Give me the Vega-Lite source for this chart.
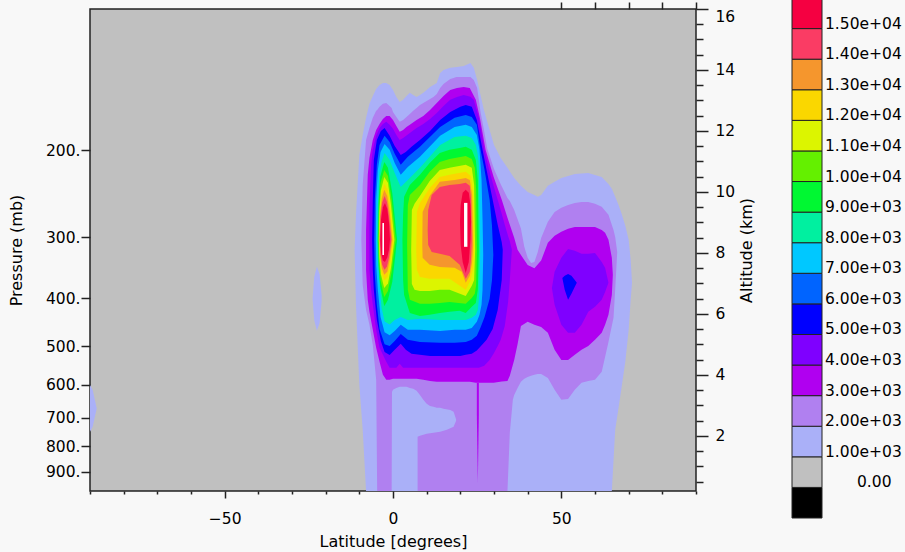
{
 "$schema": "https://vega.github.io/schema/vega-lite/v6.json",
 "width": 606, "height": 482,
 "autosize": {"type": "none"},
 "padding": {"left": 90, "top": 9, "right": 209, "bottom": 61},
 "background": "#f8f8f8",
 "config": {
  "view": {"fill": "#c0c0c0", "stroke": "#222222", "strokeWidth": 1.5},
  "font": "DejaVu Sans",
  "axis": {"labelFont": "DejaVu Sans", "labelFontSize": 15.5, "labelColor": "#000000", "titleFont": "DejaVu Sans", "titleFontSize": 16, "titleFontWeight": "normal", "titleColor": "#000000", "tickColor": "#222222", "tickWidth": 1.5, "grid": false, "domain": false, "labelOverlap": false, "tickCount": 100}
 },
 "layer": [
  {
   "layer": [
    {
     "data": {"values": [
{"pc":"01a","v":1000,"lat":-11.4,"top":8.1,"bot":8.1},
{"pc":"01a","v":1000,"lat":-11,"top":9.25,"bot":6.3},
{"pc":"01a","v":1000,"lat":-10,"top":11.21,"bot":3.67},
{"pc":"01a","v":1000,"lat":-9,"top":11.87,"bot":2.2},
{"pc":"01a","v":1000,"lat":-8,"top":12.43,"bot":0.19},
{"pc":"01a","v":1000,"lat":-7,"top":12.89,"bot":0.19},
{"pc":"01a","v":1000,"lat":-6,"top":13.15,"bot":0.19},
{"pc":"01a","v":1000,"lat":-5,"top":13.38,"bot":0.19},
{"pc":"01a","v":1000,"lat":-4,"top":13.51,"bot":0.19},
{"pc":"01a","v":1000,"lat":-3,"top":13.57,"bot":0.19},
{"pc":"01a","v":1000,"lat":-2,"top":13.57,"bot":0.19},
{"pc":"01a","v":1000,"lat":-1,"top":13.51,"bot":0.19},
{"pc":"01a","v":1000,"lat":0,"top":13.34,"bot":0.19},
{"pc":"01a","v":1000,"lat":1,"top":13.11,"bot":0.19},
{"pc":"01a","v":1000,"lat":2,"top":12.95,"bot":0.19},
{"pc":"01a","v":1000,"lat":3,"top":13.02,"bot":0.19},
{"pc":"01a","v":1000,"lat":4,"top":13.15,"bot":0.19},
{"pc":"01a","v":1000,"lat":5,"top":13.25,"bot":0.19},
{"pc":"01a","v":1000,"lat":6,"top":13.18,"bot":0.19},
{"pc":"01a","v":1000,"lat":7,"top":13.11,"bot":0.19},
{"pc":"01a","v":1000,"lat":8,"top":13.18,"bot":0.19},
{"pc":"01a","v":1000,"lat":9,"top":13.25,"bot":0.19},
{"pc":"01a","v":1000,"lat":10,"top":13.34,"bot":0.19},
{"pc":"01a","v":1000,"lat":11,"top":13.44,"bot":0.19},
{"pc":"01a","v":1000,"lat":12,"top":13.51,"bot":0.19},
{"pc":"01a","v":1000,"lat":13,"top":13.57,"bot":0.19},
{"pc":"01a","v":1000,"lat":14,"top":13.9,"bot":0.19},
{"pc":"01a","v":1000,"lat":15,"top":14.0,"bot":0.19},
{"pc":"01a","v":1000,"lat":17,"top":14.07,"bot":0.19},
{"pc":"01a","v":1000,"lat":19,"top":14.1,"bot":0.19},
{"pc":"01a","v":1000,"lat":21,"top":14.13,"bot":0.19},
{"pc":"01a","v":1000,"lat":23,"top":14.23,"bot":0.19},
{"pc":"01a","v":1000,"lat":24,"top":14.07,"bot":0.19},
{"pc":"01a","v":1000,"lat":25,"top":13.67,"bot":0.19},
{"pc":"01a","v":1000,"lat":26,"top":13.18,"bot":0.19},
{"pc":"01a","v":1000,"lat":27,"top":12.69,"bot":0.19},
{"pc":"01a","v":1000,"lat":28,"top":12.3,"bot":0.19},
{"pc":"01a","v":1000,"lat":30,"top":11.54,"bot":0.19},
{"pc":"01a","v":1000,"lat":32,"top":11.11,"bot":0.19},
{"pc":"01a","v":1000,"lat":34,"top":10.79,"bot":0.19},
{"pc":"01a","v":1000,"lat":36,"top":10.46,"bot":0.19},
{"pc":"01a","v":1000,"lat":38,"top":10.2,"bot":0.19},
{"pc":"01a","v":1000,"lat":40,"top":10.0,"bot":0.19},
{"pc":"01a","v":1000,"lat":42,"top":9.9,"bot":0.19},
{"pc":"01a","v":1000,"lat":43,"top":9.84,"bot":0.19},
{"pc":"01a","v":1000,"lat":44,"top":9.9,"bot":0.19},
{"pc":"01a","v":1000,"lat":46,"top":10.2,"bot":0.19},
{"pc":"01a","v":1000,"lat":48,"top":10.33,"bot":0.19},
{"pc":"01a","v":1000,"lat":50,"top":10.46,"bot":0.19},
{"pc":"01a","v":1000,"lat":54,"top":10.59,"bot":0.19},
{"pc":"01a","v":1000,"lat":58,"top":10.62,"bot":0.19},
{"pc":"01a","v":1000,"lat":62,"top":10.49,"bot":0.19},
{"pc":"01a","v":1000,"lat":64,"top":10.26,"bot":0.19},
{"pc":"01a","v":1000,"lat":65,"top":10.1,"bot":0.19},
{"pc":"01a","v":1000,"lat":66,"top":9.84,"bot":2.2},
{"pc":"01a","v":1000,"lat":67,"top":9.57,"bot":2.92},
{"pc":"01a","v":1000,"lat":68,"top":9.25,"bot":3.67},
{"pc":"01a","v":1000,"lat":69,"top":8.89,"bot":4.43},
{"pc":"01a","v":1000,"lat":70,"top":8.43,"bot":5.48},
{"pc":"01a","v":1000,"lat":70.6,"top":7.77,"bot":6.46},
{"pc":"01a","v":1000,"lat":71,"top":7.02,"bot":7.02},
{"pc":"01b","v":1000,"lat":-23.9,"top":6.5,"bot":6.5},
{"pc":"01b","v":1000,"lat":-23.4,"top":7.2,"bot":5.8},
{"pc":"01b","v":1000,"lat":-22.6,"top":7.55,"bot":5.45},
{"pc":"01b","v":1000,"lat":-21.8,"top":7.3,"bot":5.7},
{"pc":"01b","v":1000,"lat":-21.2,"top":6.6,"bot":6.4},
{"pc":"01c","v":1000,"lat":-90,"top":3.67,"bot":2.13},
{"pc":"01c","v":1000,"lat":-89.2,"top":3.5,"bot":2.3},
{"pc":"01c","v":1000,"lat":-88.5,"top":3.15,"bot":2.65},
{"pc":"01c","v":1000,"lat":-88,"top":2.9,"bot":2.9},
{"pc":"02a","v":2000,"lat":-9.4,"top":8.43,"bot":8.43},
{"pc":"02a","v":2000,"lat":-9,"top":10.23,"bot":6.95},
{"pc":"02a","v":2000,"lat":-8,"top":11.7,"bot":6.13},
{"pc":"02a","v":2000,"lat":-7,"top":12.1,"bot":5.64},
{"pc":"02a","v":2000,"lat":-6,"top":12.43,"bot":4.98},
{"pc":"02a","v":2000,"lat":-5,"top":12.66,"bot":3.84},
{"pc":"02a","v":2000,"lat":-4.7,"top":12.69,"bot":0.19},
{"pc":"02a","v":2000,"lat":-4,"top":12.79,"bot":0.19},
{"pc":"02a","v":2000,"lat":-3,"top":12.89,"bot":0.19},
{"pc":"02a","v":2000,"lat":-2,"top":12.92,"bot":0.19},
{"pc":"02a","v":2000,"lat":-1,"top":12.82,"bot":0.19},
{"pc":"02a","v":2000,"lat":-0.4,"top":12.75,"bot":0.19},
{"pc":"02a","v":2000,"lat":-0.3,"top":12.72,"bot":3.44},
{"pc":"02a","v":2000,"lat":0,"top":12.62,"bot":3.51},
{"pc":"02a","v":2000,"lat":1,"top":12.46,"bot":3.57},
{"pc":"02a","v":2000,"lat":2,"top":12.3,"bot":3.61},
{"pc":"02a","v":2000,"lat":3,"top":12.36,"bot":3.61},
{"pc":"02a","v":2000,"lat":4,"top":12.46,"bot":3.61},
{"pc":"02a","v":2000,"lat":5,"top":12.56,"bot":3.57},
{"pc":"02a","v":2000,"lat":6,"top":12.66,"bot":3.54},
{"pc":"02a","v":2000,"lat":7,"top":12.75,"bot":3.48},
{"pc":"02a","v":2000,"lat":8,"top":12.85,"bot":3.34},
{"pc":"02a","v":2000,"lat":9,"top":12.92,"bot":3.18},
{"pc":"02a","v":2000,"lat":10,"top":12.98,"bot":3.05},
{"pc":"02a","v":2000,"lat":11,"top":13.05,"bot":2.98},
{"pc":"02a","v":2000,"lat":12,"top":13.11,"bot":2.95},
{"pc":"02a","v":2000,"lat":13,"top":13.21,"bot":2.92},
{"pc":"02a","v":2000,"lat":14,"top":13.41,"bot":2.92},
{"pc":"02a","v":2000,"lat":15,"top":13.54,"bot":2.89},
{"pc":"02a","v":2000,"lat":17,"top":13.7,"bot":2.85},
{"pc":"02a","v":2000,"lat":18,"top":13.74,"bot":2.79},
{"pc":"02a","v":2000,"lat":18.8,"top":13.77,"bot":2.52},
{"pc":"02a","v":2000,"lat":19,"top":13.77,"bot":0.19},
{"pc":"02a","v":2000,"lat":21,"top":13.77,"bot":0.19},
{"pc":"02a","v":2000,"lat":23,"top":13.77,"bot":0.19},
{"pc":"02a","v":2000,"lat":24,"top":13.67,"bot":0.19},
{"pc":"02a","v":2000,"lat":25,"top":13.41,"bot":0.19},
{"pc":"02a","v":2000,"lat":26,"top":12.62,"bot":0.19},
{"pc":"02a","v":2000,"lat":27,"top":12.05,"bot":0.19},
{"pc":"02a","v":2000,"lat":28,"top":11.42,"bot":0.19},
{"pc":"02a","v":2000,"lat":30,"top":10.75,"bot":0.19},
{"pc":"02a","v":2000,"lat":32,"top":10.25,"bot":0.19},
{"pc":"02a","v":2000,"lat":34,"top":9.8,"bot":0.19},
{"pc":"02a","v":2000,"lat":34.7,"top":9.7,"bot":2.1},
{"pc":"02a","v":2000,"lat":35.6,"top":9.5,"bot":3.18},
{"pc":"02a","v":2000,"lat":36,"top":9.41,"bot":3.34},
{"pc":"02a","v":2000,"lat":37,"top":9.1,"bot":3.57},
{"pc":"02a","v":2000,"lat":38,"top":8.8,"bot":3.77},
{"pc":"02a","v":2000,"lat":39,"top":8.2,"bot":3.87},
{"pc":"02a","v":2000,"lat":40,"top":7.84,"bot":3.93},
{"pc":"02a","v":2000,"lat":41,"top":7.67,"bot":3.97},
{"pc":"02a","v":2000,"lat":42,"top":7.7,"bot":4.0},
{"pc":"02a","v":2000,"lat":43,"top":8.03,"bot":4.03},
{"pc":"02a","v":2000,"lat":44,"top":8.49,"bot":4.03},
{"pc":"02a","v":2000,"lat":46,"top":9.02,"bot":3.9},
{"pc":"02a","v":2000,"lat":48,"top":9.34,"bot":3.51},
{"pc":"02a","v":2000,"lat":50,"top":9.48,"bot":3.18},
{"pc":"02a","v":2000,"lat":52,"top":9.57,"bot":3.21},
{"pc":"02a","v":2000,"lat":54,"top":9.64,"bot":3.51},
{"pc":"02a","v":2000,"lat":56,"top":9.67,"bot":3.74},
{"pc":"02a","v":2000,"lat":58,"top":9.67,"bot":3.8},
{"pc":"02a","v":2000,"lat":60,"top":9.61,"bot":3.84},
{"pc":"02a","v":2000,"lat":62,"top":9.51,"bot":4.1},
{"pc":"02a","v":2000,"lat":64,"top":9.25,"bot":5.08},
{"pc":"02a","v":2000,"lat":65.5,"top":8.75,"bot":5.87},
{"pc":"02a","v":2000,"lat":66,"top":8.52,"bot":6.79},
{"pc":"02a","v":2000,"lat":66.6,"top":8.03,"bot":8.03},
{"pc":"02b","v":2000,"lat":7.3,"top":1.97,"bot":0.19},
{"pc":"02b","v":2000,"lat":8,"top":2.0,"bot":0.19},
{"pc":"02b","v":2000,"lat":10,"top":2.07,"bot":0.19},
{"pc":"02b","v":2000,"lat":12,"top":2.1,"bot":0.19},
{"pc":"02b","v":2000,"lat":14,"top":2.13,"bot":0.19},
{"pc":"02b","v":2000,"lat":16,"top":2.2,"bot":0.19},
{"pc":"02b","v":2000,"lat":18,"top":2.3,"bot":0.19},
{"pc":"02b","v":2000,"lat":19.5,"top":2.69,"bot":0.19},
{"pc":"02b","v":2000,"lat":20,"top":2.85,"bot":0.19},
{"pc":"03a","v":3000,"lat":-8,"top":8.75,"bot":7.44},
{"pc":"03a","v":3000,"lat":-7.5,"top":10.56,"bot":6.46},
{"pc":"03a","v":3000,"lat":-7,"top":11.11,"bot":6.07},
{"pc":"03a","v":3000,"lat":-6,"top":11.7,"bot":5.48},
{"pc":"03a","v":3000,"lat":-5,"top":12.03,"bot":4.89},
{"pc":"03a","v":3000,"lat":-4,"top":12.23,"bot":4.43},
{"pc":"03a","v":3000,"lat":-3,"top":12.39,"bot":4.0},
{"pc":"03a","v":3000,"lat":-2,"top":12.49,"bot":3.84},
{"pc":"03a","v":3000,"lat":-1,"top":12.49,"bot":3.84},
{"pc":"03a","v":3000,"lat":0,"top":12.36,"bot":3.87},
{"pc":"03a","v":3000,"lat":1,"top":12.16,"bot":3.87},
{"pc":"03a","v":3000,"lat":2,"top":11.97,"bot":3.87},
{"pc":"03a","v":3000,"lat":3,"top":12.03,"bot":3.87},
{"pc":"03a","v":3000,"lat":4,"top":12.13,"bot":3.87},
{"pc":"03a","v":3000,"lat":5,"top":12.2,"bot":3.87},
{"pc":"03a","v":3000,"lat":7,"top":12.36,"bot":3.87},
{"pc":"03a","v":3000,"lat":9,"top":12.49,"bot":3.84},
{"pc":"03a","v":3000,"lat":11,"top":12.69,"bot":3.8},
{"pc":"03a","v":3000,"lat":13,"top":12.92,"bot":3.77},
{"pc":"03a","v":3000,"lat":15,"top":13.15,"bot":3.77},
{"pc":"03a","v":3000,"lat":17,"top":13.34,"bot":3.77},
{"pc":"03a","v":3000,"lat":19,"top":13.41,"bot":3.77},
{"pc":"03a","v":3000,"lat":21,"top":13.44,"bot":3.77},
{"pc":"03a","v":3000,"lat":22.8,"top":13.41,"bot":3.77},
{"pc":"03a","v":3000,"lat":24.6,"top":13.02,"bot":3.74},
{"pc":"03a","v":3000,"lat":25.8,"top":12.43,"bot":3.74},
{"pc":"03a","v":3000,"lat":27.5,"top":11.38,"bot":3.74},
{"pc":"03a","v":3000,"lat":29.9,"top":10.49,"bot":3.74},
{"pc":"03a","v":3000,"lat":32.3,"top":9.74,"bot":3.78},
{"pc":"03a","v":3000,"lat":34,"top":9.15,"bot":3.8},
{"pc":"03a","v":3000,"lat":34.7,"top":8.92,"bot":3.97},
{"pc":"03a","v":3000,"lat":36,"top":8.5,"bot":4.49},
{"pc":"03a","v":3000,"lat":37,"top":8.1,"bot":5.0},
{"pc":"03a","v":3000,"lat":38,"top":7.93,"bot":5.6},
{"pc":"03a","v":3000,"lat":40,"top":7.6,"bot":5.74},
{"pc":"03a","v":3000,"lat":42,"top":7.5,"bot":5.64},
{"pc":"03a","v":3000,"lat":44,"top":7.75,"bot":5.57},
{"pc":"03a","v":3000,"lat":46,"top":8.33,"bot":5.38},
{"pc":"03a","v":3000,"lat":48,"top":8.56,"bot":4.82},
{"pc":"03a","v":3000,"lat":50,"top":8.69,"bot":4.49},
{"pc":"03a","v":3000,"lat":52,"top":8.79,"bot":4.49},
{"pc":"03a","v":3000,"lat":54,"top":8.85,"bot":4.66},
{"pc":"03a","v":3000,"lat":56,"top":8.85,"bot":4.82},
{"pc":"03a","v":3000,"lat":58,"top":8.85,"bot":4.95},
{"pc":"03a","v":3000,"lat":60,"top":8.85,"bot":5.15},
{"pc":"03a","v":3000,"lat":62,"top":8.75,"bot":5.38},
{"pc":"03a","v":3000,"lat":63,"top":8.66,"bot":5.64},
{"pc":"03a","v":3000,"lat":64,"top":8.43,"bot":5.97},
{"pc":"03a","v":3000,"lat":65,"top":7.84,"bot":6.62},
{"pc":"03a","v":3000,"lat":65.3,"top":7.28,"bot":7.28},
{"pc":"03b","v":3000,"lat":24.9,"top":3.74,"bot":2.69},
{"pc":"03b","v":3000,"lat":25.2,"top":3.74,"bot":0.46},
{"pc":"03b","v":3000,"lat":25.5,"top":3.74,"bot":2.69},
{"pc":"04a","v":4000,"lat":-7,"top":9.57,"bot":7.44},
{"pc":"04a","v":4000,"lat":-6.5,"top":10.89,"bot":6.79},
{"pc":"04a","v":4000,"lat":-6,"top":11.38,"bot":6.3},
{"pc":"04a","v":4000,"lat":-5,"top":11.84,"bot":5.48},
{"pc":"04a","v":4000,"lat":-4,"top":12.1,"bot":4.89},
{"pc":"04a","v":4000,"lat":-3,"top":12.23,"bot":4.66},
{"pc":"04a","v":4000,"lat":-2,"top":12.3,"bot":4.43},
{"pc":"04a","v":4000,"lat":-1,"top":12.2,"bot":4.23},
{"pc":"04a","v":4000,"lat":0,"top":12.07,"bot":4.23},
{"pc":"04a","v":4000,"lat":1,"top":11.87,"bot":4.23},
{"pc":"04a","v":4000,"lat":2,"top":11.7,"bot":4.36},
{"pc":"04a","v":4000,"lat":3,"top":11.77,"bot":4.23},
{"pc":"04a","v":4000,"lat":5,"top":11.93,"bot":4.23},
{"pc":"04a","v":4000,"lat":7,"top":12.1,"bot":4.23},
{"pc":"04a","v":4000,"lat":9,"top":12.23,"bot":4.23},
{"pc":"04a","v":4000,"lat":11,"top":12.39,"bot":4.23},
{"pc":"04a","v":4000,"lat":13,"top":12.59,"bot":4.23},
{"pc":"04a","v":4000,"lat":15,"top":12.82,"bot":4.23},
{"pc":"04a","v":4000,"lat":17,"top":13.02,"bot":4.23},
{"pc":"04a","v":4000,"lat":19,"top":13.11,"bot":4.23},
{"pc":"04a","v":4000,"lat":21,"top":13.18,"bot":4.23},
{"pc":"04a","v":4000,"lat":23,"top":13.12,"bot":4.23},
{"pc":"04a","v":4000,"lat":24,"top":13.02,"bot":4.23},
{"pc":"04a","v":4000,"lat":25.5,"top":12.43,"bot":4.23},
{"pc":"04a","v":4000,"lat":27.1,"top":11.38,"bot":4.3},
{"pc":"04a","v":4000,"lat":28.7,"top":10.66,"bot":4.49},
{"pc":"04a","v":4000,"lat":30,"top":10.15,"bot":4.72},
{"pc":"04a","v":4000,"lat":31.1,"top":9.74,"bot":4.95},
{"pc":"04a","v":4000,"lat":32,"top":9.4,"bot":5.15},
{"pc":"04a","v":4000,"lat":33.2,"top":8.92,"bot":5.6},
{"pc":"04a","v":4000,"lat":34.2,"top":8.55,"bot":6.4},
{"pc":"04a","v":4000,"lat":34.7,"top":8.38,"bot":7.11},
{"pc":"04a","v":4000,"lat":35.3,"top":8.1,"bot":8.1},
{"pc":"04b","v":4000,"lat":47.2,"top":6.85,"bot":6.85},
{"pc":"04b","v":4000,"lat":48,"top":7.38,"bot":6.3},
{"pc":"04b","v":4000,"lat":50,"top":7.84,"bot":5.64},
{"pc":"04b","v":4000,"lat":52,"top":8.13,"bot":5.38},
{"pc":"04b","v":4000,"lat":54,"top":8.07,"bot":5.38},
{"pc":"04b","v":4000,"lat":56,"top":7.97,"bot":5.64},
{"pc":"04b","v":4000,"lat":58,"top":7.97,"bot":6.07},
{"pc":"04b","v":4000,"lat":60,"top":8.0,"bot":6.23},
{"pc":"04b","v":4000,"lat":62,"top":7.7,"bot":6.46},
{"pc":"04b","v":4000,"lat":63,"top":7.51,"bot":6.72},
{"pc":"04b","v":4000,"lat":64,"top":7.02,"bot":7.02},
{"pc":"05a","v":5000,"lat":-6.2,"top":8.43,"bot":8.43},
{"pc":"05a","v":5000,"lat":-6,"top":9.74,"bot":7.44},
{"pc":"05a","v":5000,"lat":-5.7,"top":11.05,"bot":6.79},
{"pc":"05a","v":5000,"lat":-4.8,"top":11.7,"bot":5.8},
{"pc":"05a","v":5000,"lat":-3.6,"top":12.0,"bot":5.1},
{"pc":"05a","v":5000,"lat":-2.5,"top":12.1,"bot":4.75},
{"pc":"05a","v":5000,"lat":-1,"top":11.84,"bot":4.65},
{"pc":"05a","v":5000,"lat":0.5,"top":11.51,"bot":4.82},
{"pc":"05a","v":5000,"lat":2.3,"top":11.21,"bot":5.02},
{"pc":"05a","v":5000,"lat":3.8,"top":11.31,"bot":4.82},
{"pc":"05a","v":5000,"lat":5.5,"top":11.48,"bot":4.69},
{"pc":"05a","v":5000,"lat":8,"top":11.7,"bot":4.66},
{"pc":"05a","v":5000,"lat":11,"top":12.0,"bot":4.62},
{"pc":"05a","v":5000,"lat":14,"top":12.36,"bot":4.62},
{"pc":"05a","v":5000,"lat":17,"top":12.62,"bot":4.62},
{"pc":"05a","v":5000,"lat":20,"top":12.79,"bot":4.62},
{"pc":"05a","v":5000,"lat":21.6,"top":12.85,"bot":4.66},
{"pc":"05a","v":5000,"lat":23.4,"top":12.79,"bot":4.69},
{"pc":"05a","v":5000,"lat":24.9,"top":12.36,"bot":4.8},
{"pc":"05a","v":5000,"lat":26.6,"top":11.38,"bot":5.0},
{"pc":"05a","v":5000,"lat":27.8,"top":10.72,"bot":5.15},
{"pc":"05a","v":5000,"lat":29.6,"top":9.74,"bot":5.5},
{"pc":"05a","v":5000,"lat":31.1,"top":8.92,"bot":6.13},
{"pc":"05a","v":5000,"lat":32.3,"top":8.35,"bot":7.11},
{"pc":"05a","v":5000,"lat":32.6,"top":8.1,"bot":8.1},
{"pc":"05b","v":5000,"lat":50.3,"top":7.18,"bot":7.18},
{"pc":"05b","v":5000,"lat":51,"top":7.25,"bot":6.79},
{"pc":"05b","v":5000,"lat":52,"top":7.31,"bot":6.46},
{"pc":"05b","v":5000,"lat":53,"top":7.25,"bot":6.66},
{"pc":"05b","v":5000,"lat":54,"top":7.11,"bot":6.89},
{"pc":"05b","v":5000,"lat":54.6,"top":7.02,"bot":7.02},
{"pc":"06a","v":6000,"lat":-5.6,"top":8.43,"bot":8.43},
{"pc":"06a","v":6000,"lat":-5.4,"top":9.74,"bot":7.28},
{"pc":"06a","v":6000,"lat":-4.8,"top":10.89,"bot":6.3},
{"pc":"06a","v":6000,"lat":-4,"top":11.54,"bot":5.5},
{"pc":"06a","v":6000,"lat":-2.5,"top":11.84,"bot":5.0},
{"pc":"06a","v":6000,"lat":-1,"top":11.64,"bot":4.95},
{"pc":"06a","v":6000,"lat":0.5,"top":11.25,"bot":5.11},
{"pc":"06a","v":6000,"lat":2.3,"top":10.89,"bot":5.34},
{"pc":"06a","v":6000,"lat":4.4,"top":11.15,"bot":5.15},
{"pc":"06a","v":6000,"lat":8,"top":11.48,"bot":5.08},
{"pc":"06a","v":6000,"lat":14,"top":12.13,"bot":5.05},
{"pc":"06a","v":6000,"lat":18.3,"top":12.43,"bot":5.05},
{"pc":"06a","v":6000,"lat":21.6,"top":12.52,"bot":5.08},
{"pc":"06a","v":6000,"lat":23.4,"top":12.46,"bot":5.15},
{"pc":"06a","v":6000,"lat":24.9,"top":12.2,"bot":5.28},
{"pc":"06a","v":6000,"lat":26.0,"top":11.38,"bot":5.55},
{"pc":"06a","v":6000,"lat":27.2,"top":10.72,"bot":5.9},
{"pc":"06a","v":6000,"lat":28.7,"top":9.74,"bot":6.5},
{"pc":"06a","v":6000,"lat":29.4,"top":8.9,"bot":7.1},
{"pc":"06a","v":6000,"lat":29.8,"top":7.93,"bot":7.93},
{"pc":"07a","v":7000,"lat":-5.1,"top":8.43,"bot":8.43},
{"pc":"07a","v":7000,"lat":-5,"top":9.74,"bot":7.61},
{"pc":"07a","v":7000,"lat":-4.5,"top":10.72,"bot":6.79},
{"pc":"07a","v":7000,"lat":-3.7,"top":11.31,"bot":5.9},
{"pc":"07a","v":7000,"lat":-2.5,"top":11.57,"bot":5.4},
{"pc":"07a","v":7000,"lat":-1,"top":11.38,"bot":5.3},
{"pc":"07a","v":7000,"lat":0.5,"top":10.95,"bot":5.44},
{"pc":"07a","v":7000,"lat":2.3,"top":10.56,"bot":5.64},
{"pc":"07a","v":7000,"lat":4.4,"top":10.82,"bot":5.48},
{"pc":"07a","v":7000,"lat":8,"top":11.15,"bot":5.48},
{"pc":"07a","v":7000,"lat":14,"top":11.84,"bot":5.44},
{"pc":"07a","v":7000,"lat":18.3,"top":12.13,"bot":5.48},
{"pc":"07a","v":7000,"lat":21.6,"top":12.2,"bot":5.48},
{"pc":"07a","v":7000,"lat":23.4,"top":12.13,"bot":5.54},
{"pc":"07a","v":7000,"lat":24.9,"top":11.87,"bot":5.74},
{"pc":"07a","v":7000,"lat":25.7,"top":11.38,"bot":5.97},
{"pc":"07a","v":7000,"lat":26.3,"top":10.39,"bot":6.3},
{"pc":"07a","v":7000,"lat":26.6,"top":9.08,"bot":6.79},
{"pc":"07a","v":7000,"lat":26.8,"top":7.93,"bot":7.93},
{"pc":"08a","v":8000,"lat":-4.7,"top":8.43,"bot":8.43},
{"pc":"08a","v":8000,"lat":-4.5,"top":9.57,"bot":7.77},
{"pc":"08a","v":8000,"lat":-4.1,"top":10.56,"bot":7.11},
{"pc":"08a","v":8000,"lat":-3.4,"top":10.98,"bot":6.2},
{"pc":"08a","v":8000,"lat":-2.5,"top":11.28,"bot":5.75},
{"pc":"08a","v":8000,"lat":-1,"top":11.05,"bot":5.65},
{"pc":"08a","v":8000,"lat":0.5,"top":10.62,"bot":5.8},
{"pc":"08a","v":8000,"lat":2.3,"top":10.16,"bot":5.9},
{"pc":"08a","v":8000,"lat":4.4,"top":10.39,"bot":5.8},
{"pc":"08a","v":8000,"lat":8,"top":10.79,"bot":5.84},
{"pc":"08a","v":8000,"lat":14,"top":11.54,"bot":5.8},
{"pc":"08a","v":8000,"lat":18.3,"top":11.8,"bot":5.8},
{"pc":"08a","v":8000,"lat":21.6,"top":11.84,"bot":5.8},
{"pc":"08a","v":8000,"lat":23.4,"top":11.77,"bot":5.87},
{"pc":"08a","v":8000,"lat":24.6,"top":11.54,"bot":5.97},
{"pc":"08a","v":8000,"lat":25.2,"top":11.21,"bot":6.13},
{"pc":"08a","v":8000,"lat":25.5,"top":10.89,"bot":6.46},
{"pc":"08a","v":8000,"lat":25.7,"top":9.74,"bot":6.79},
{"pc":"08a","v":8000,"lat":25.9,"top":8.1,"bot":8.1},
{"pc":"09a","v":9000,"lat":-4.5,"top":8.43,"bot":8.43},
{"pc":"09a","v":9000,"lat":-4.3,"top":9.6,"bot":7.6},
{"pc":"09a","v":9000,"lat":-3.8,"top":10.5,"bot":6.9},
{"pc":"09a","v":9000,"lat":-2.6,"top":10.98,"bot":6.25},
{"pc":"09a","v":9000,"lat":-1.5,"top":10.79,"bot":6.46},
{"pc":"09a","v":9000,"lat":-0.2,"top":9.95,"bot":7.05},
{"pc":"09a","v":9000,"lat":1.2,"top":8.43,"bot":8.43},
{"pc":"09b","v":9000,"lat":2.8,"top":8.43,"bot":8.43},
{"pc":"09b","v":9000,"lat":3.0,"top":9.25,"bot":7.11},
{"pc":"09b","v":9000,"lat":3.3,"top":9.84,"bot":6.62},
{"pc":"09b","v":9000,"lat":5.0,"top":10.23,"bot":6.03},
{"pc":"09b","v":9000,"lat":8.0,"top":10.56,"bot":5.93},
{"pc":"09b","v":9000,"lat":10.9,"top":10.95,"bot":5.97},
{"pc":"09b","v":9000,"lat":13.9,"top":11.28,"bot":6.03},
{"pc":"09b","v":9000,"lat":16.8,"top":11.38,"bot":6.07},
{"pc":"09b","v":9000,"lat":19.8,"top":11.44,"bot":6.1},
{"pc":"09b","v":9000,"lat":21.6,"top":11.48,"bot":6.03},
{"pc":"09b","v":9000,"lat":23.4,"top":11.38,"bot":6.23},
{"pc":"09b","v":9000,"lat":24.6,"top":11.05,"bot":6.36},
{"pc":"09b","v":9000,"lat":25.2,"top":10.39,"bot":6.79},
{"pc":"09b","v":9000,"lat":25.5,"top":8.1,"bot":8.1},
{"pc":"10a","v":10000,"lat":-4.35,"top":8.43,"bot":8.43},
{"pc":"10a","v":10000,"lat":-4.15,"top":9.5,"bot":7.7},
{"pc":"10a","v":10000,"lat":-3.7,"top":10.3,"bot":7.1},
{"pc":"10a","v":10000,"lat":-2.6,"top":10.72,"bot":6.55},
{"pc":"10a","v":10000,"lat":-1.5,"top":10.52,"bot":6.75},
{"pc":"10a","v":10000,"lat":-0.4,"top":9.74,"bot":7.38},
{"pc":"10a","v":10000,"lat":0.8,"top":8.43,"bot":8.43},
{"pc":"10b","v":10000,"lat":4.2,"top":8.26,"bot":8.26},
{"pc":"10b","v":10000,"lat":4.4,"top":9.57,"bot":6.79},
{"pc":"10b","v":10000,"lat":5.0,"top":9.9,"bot":6.46},
{"pc":"10b","v":10000,"lat":8.0,"top":10.23,"bot":6.33},
{"pc":"10b","v":10000,"lat":10.9,"top":10.66,"bot":6.33},
{"pc":"10b","v":10000,"lat":13.9,"top":10.98,"bot":6.36},
{"pc":"10b","v":10000,"lat":16.8,"top":11.08,"bot":6.39},
{"pc":"10b","v":10000,"lat":21.6,"top":11.18,"bot":6.33},
{"pc":"10b","v":10000,"lat":23.4,"top":11.08,"bot":6.52},
{"pc":"10b","v":10000,"lat":24.3,"top":10.79,"bot":6.66},
{"pc":"10b","v":10000,"lat":24.7,"top":10.07,"bot":6.95},
{"pc":"10b","v":10000,"lat":24.9,"top":8.1,"bot":8.1},
{"pc":"11a","v":11000,"lat":-4.2,"top":8.43,"bot":8.43},
{"pc":"11a","v":11000,"lat":-4.0,"top":9.4,"bot":7.8},
{"pc":"11a","v":11000,"lat":-3.6,"top":10.05,"bot":7.3},
{"pc":"11a","v":11000,"lat":-2.6,"top":10.49,"bot":6.85},
{"pc":"11a","v":11000,"lat":-1.5,"top":10.3,"bot":7.0},
{"pc":"11a","v":11000,"lat":-0.6,"top":9.57,"bot":7.51},
{"pc":"11a","v":11000,"lat":0.4,"top":8.43,"bot":8.43},
{"pc":"11b","v":11000,"lat":5.4,"top":8.1,"bot":8.1},
{"pc":"11b","v":11000,"lat":5.6,"top":9.41,"bot":6.98},
{"pc":"11b","v":11000,"lat":6.4,"top":9.61,"bot":6.79},
{"pc":"11b","v":11000,"lat":8.0,"top":9.87,"bot":6.75},
{"pc":"11b","v":11000,"lat":10.9,"top":10.36,"bot":6.75},
{"pc":"11b","v":11000,"lat":13.9,"top":10.72,"bot":6.79},
{"pc":"11b","v":11000,"lat":16.8,"top":10.79,"bot":6.79},
{"pc":"11b","v":11000,"lat":21.6,"top":10.89,"bot":6.59},
{"pc":"11b","v":11000,"lat":23.4,"top":10.79,"bot":6.92},
{"pc":"11b","v":11000,"lat":24.1,"top":10.23,"bot":7.11},
{"pc":"11b","v":11000,"lat":24.4,"top":8.1,"bot":8.1},
{"pc":"12a","v":12000,"lat":-4.1,"top":8.43,"bot":8.43},
{"pc":"12a","v":12000,"lat":-3.9,"top":9.35,"bot":7.85},
{"pc":"12a","v":12000,"lat":-3.4,"top":9.95,"bot":7.35},
{"pc":"12a","v":12000,"lat":-2.6,"top":10.26,"bot":7.1},
{"pc":"12a","v":12000,"lat":-1.6,"top":10.07,"bot":7.21},
{"pc":"12a","v":12000,"lat":-0.8,"top":9.48,"bot":7.67},
{"pc":"12a","v":12000,"lat":0.1,"top":8.43,"bot":8.43},
{"pc":"12b","v":12000,"lat":6.9,"top":8.1,"bot":8.1},
{"pc":"12b","v":12000,"lat":7.1,"top":9.34,"bot":7.44},
{"pc":"12b","v":12000,"lat":8.0,"top":9.64,"bot":7.21},
{"pc":"12b","v":12000,"lat":10.9,"top":10.13,"bot":7.15},
{"pc":"12b","v":12000,"lat":13.9,"top":10.49,"bot":7.15},
{"pc":"12b","v":12000,"lat":16.8,"top":10.56,"bot":7.15},
{"pc":"12b","v":12000,"lat":21.6,"top":10.66,"bot":6.79},
{"pc":"12b","v":12000,"lat":23.1,"top":10.52,"bot":7.11},
{"pc":"12b","v":12000,"lat":23.8,"top":10.0,"bot":7.51},
{"pc":"12b","v":12000,"lat":24.1,"top":8.1,"bot":8.1},
{"pc":"13a","v":13000,"lat":-4.0,"top":8.43,"bot":8.43},
{"pc":"13a","v":13000,"lat":-3.8,"top":9.3,"bot":7.9},
{"pc":"13a","v":13000,"lat":-3.3,"top":9.8,"bot":7.5},
{"pc":"13a","v":13000,"lat":-2.6,"top":10.07,"bot":7.28},
{"pc":"13a","v":13000,"lat":-1.7,"top":9.87,"bot":7.38},
{"pc":"13a","v":13000,"lat":-1.0,"top":9.34,"bot":7.77},
{"pc":"13a","v":13000,"lat":-0.2,"top":8.43,"bot":8.43},
{"pc":"13b","v":13000,"lat":8.7,"top":8.26,"bot":8.26},
{"pc":"13b","v":13000,"lat":8.8,"top":9.34,"bot":7.84},
{"pc":"13b","v":13000,"lat":10.9,"top":9.87,"bot":7.61},
{"pc":"13b","v":13000,"lat":13.9,"top":10.33,"bot":7.54},
{"pc":"13b","v":13000,"lat":18.3,"top":10.39,"bot":7.51},
{"pc":"13b","v":13000,"lat":20.4,"top":10.43,"bot":7.38},
{"pc":"13b","v":13000,"lat":21.6,"top":10.46,"bot":7.02},
{"pc":"13b","v":13000,"lat":22.8,"top":10.39,"bot":7.25},
{"pc":"13b","v":13000,"lat":23.5,"top":9.9,"bot":7.7},
{"pc":"13b","v":13000,"lat":23.8,"top":8.26,"bot":8.26},
{"pc":"14a","v":14000,"lat":-3.9,"top":8.43,"bot":8.43},
{"pc":"14a","v":14000,"lat":-3.7,"top":9.2,"bot":7.95},
{"pc":"14a","v":14000,"lat":-3.2,"top":9.65,"bot":7.6},
{"pc":"14a","v":14000,"lat":-2.5,"top":9.87,"bot":7.45},
{"pc":"14a","v":14000,"lat":-1.8,"top":9.67,"bot":7.55},
{"pc":"14a","v":14000,"lat":-1.2,"top":9.2,"bot":7.85},
{"pc":"14a","v":14000,"lat":-0.5,"top":8.43,"bot":8.43},
{"pc":"14b","v":14000,"lat":10.3,"top":8.75,"bot":8.75},
{"pc":"14b","v":14000,"lat":10.45,"top":9.41,"bot":8.26},
{"pc":"14b","v":14000,"lat":11.5,"top":9.9,"bot":8.03},
{"pc":"14b","v":14000,"lat":13.9,"top":10.16,"bot":7.97},
{"pc":"14b","v":14000,"lat":16.8,"top":10.23,"bot":7.9},
{"pc":"14b","v":14000,"lat":19.8,"top":10.26,"bot":7.61},
{"pc":"14b","v":14000,"lat":21.6,"top":10.3,"bot":7.15},
{"pc":"14b","v":14000,"lat":22.8,"top":10.2,"bot":7.38},
{"pc":"14b","v":14000,"lat":23.2,"top":9.74,"bot":7.84},
{"pc":"14b","v":14000,"lat":23.4,"top":8.43,"bot":8.43},
{"pc":"15a","v":15000,"lat":-3.75,"top":8.43,"bot":8.43},
{"pc":"15a","v":15000,"lat":-3.55,"top":9.1,"bot":8.0},
{"pc":"15a","v":15000,"lat":-3.0,"top":9.5,"bot":7.75},
{"pc":"15a","v":15000,"lat":-2.4,"top":9.64,"bot":7.7},
{"pc":"15a","v":15000,"lat":-1.7,"top":9.45,"bot":7.85},
{"pc":"15a","v":15000,"lat":-1.2,"top":9.0,"bot":8.1},
{"pc":"15a","v":15000,"lat":-0.9,"top":8.43,"bot":8.43},
{"pc":"15b","v":15000,"lat":19.9,"top":9.02,"bot":9.02},
{"pc":"15b","v":15000,"lat":20.1,"top":9.57,"bot":8.26},
{"pc":"15b","v":15000,"lat":20.7,"top":9.97,"bot":7.7},
{"pc":"15b","v":15000,"lat":21.6,"top":10.07,"bot":7.34},
{"pc":"15b","v":15000,"lat":22.5,"top":9.97,"bot":7.7},
{"pc":"15b","v":15000,"lat":23.0,"top":9.57,"bot":8.43},
{"pc":"15b","v":15000,"lat":23.2,"top":9.02,"bot":9.02}
     ]},
     "mark": {"type": "area", "clip": true},
     "encoding": {
      "x": {"field": "lat", "type": "quantitative",
       "scale": {"domain": [-90, 90], "nice": false, "zero": false},
       "axis": {"orient": "bottom", "values": [-90,-80,-70,-60,-50,-40,-30,-20,-10,0,10,20,30,40,50,60,70,80,90], "tickCount": 100,
        "labelExpr": "datum.value % 50 === 0 ? datum.label : ''",
        "tickSize": {"condition": {"test": "datum.value % 50 === 0", "value": 7}, "value": 3},
        "labelPadding": 13, "labelFlush": false,
        "title": "Latitude [degrees]", "titleBaseline": "alphabetic", "titleY": 55}},
      "y": {"field": "top", "type": "quantitative",
       "scale": {"domain": [0.19, 16], "nice": false, "zero": false},
       "axis": {"orient": "right", "values": [0.5,1,1.5,2,2.5,3,3.5,4,4.5,5,5.5,6,6.5,7,7.5,8,8.5,9,9.5,10,10.5,11,11.5,12,12.5,13,13.5,14,14.5,15,15.5,16], "tickCount": 100,
        "labelExpr": "datum.value % 2 === 0 ? format(datum.value, 'd') : ''",
        "tickSize": {"condition": {"test": "datum.value % 2 === 0", "value": 12}, "value": 7},
        "labelPadding": 7, "labelFlush": true,
        "title": "Altitude (km)", "titleAngle": 270, "titleX": 50, "titleAlign": "center", "titleBaseline": "middle"}},
      "y2": {"field": "bot"},
      "detail": {"field": "pc"},
      "color": {"field": "v", "type": "quantitative",
       "scale": {"type": "threshold", "domain": [0,1000,2000,3000,4000,5000,6000,7000,8000,9000,10000,11000,12000,13000,14000,15000],
        "range": ["#000000","#c0c0c0","#aab0f8","#b080f0","#b000f0","#7f00ff","#0000ff","#0064ff","#00c8ff","#00f0a0","#00f832","#64f000","#dcf500","#fad700","#f5962d","#fa3c64","#f50041"]},
       "legend": {"type": "gradient", "orient": "none", "legendX": 702, "legendY": -11, "direction": "vertical",
        "gradientLength": 520, "gradientThickness": 30, "title": null,
        "labelFont": "DejaVu Sans", "labelFontSize": 15.5, "labelColor": "#000000", "labelOffset": 3, "labelOverlap": false,
        "labelExpr": "isFinite(datum.value) ? (datum.value == 0 ? '0.00' : replace(format(datum.value, '.2e'), 'e+', 'e+0')) : ''",
        "encode": {"labels": {"update": {"baseline": {"value": "alphabetic"}, "dx": {"signal": "datum.value == 0 ? 32 : 0"}}},
                   "gradient": {"update": {"stroke": {"value": "#222222"}, "strokeWidth": {"value": 1}}}}}}
     }
    },
    {
     "data": {"values": [
      {"pc":"w1","lat":-3.15,"top":8.98,"bot":7.93},
      {"pc":"w1","lat":-2.67,"top":8.98,"bot":7.93},
      {"pc":"w2","lat":21.1,"top":9.64,"bot":8.2},
      {"pc":"w2","lat":22.1,"top":9.64,"bot":8.2}
     ]},
     "mark": {"type": "area", "color": "#ffffff", "clip": true},
     "encoding": {
      "x": {"field": "lat", "type": "quantitative"},
      "y": {"field": "top", "type": "quantitative"},
      "y2": {"field": "bot"},
      "detail": {"field": "pc"}
     }
    }
   ]
  },
  {
   "data": {"values": [{"p": 500}]},
   "mark": {"type": "point", "opacity": 0},
   "encoding": {
    "y": {"field": "p", "type": "quantitative",
     "scale": {"type": "log", "domain": [103.06, 986.1], "reverse": true, "nice": false},
     "axis": {"orient": "left", "values": [200,300,400,500,600,700,800,900],
      "labelExpr": "datum.value + '.'", "tickSize": 9, "labelPadding": 1,
      "title": "Pressure (mb)", "titleAngle": 270, "titleX": -74, "titleAlign": "center", "titleBaseline": "middle"}}
   }
  },
  {
   "data": {"values": [{"lat": 0}]},
   "mark": {"type": "point", "opacity": 0},
   "encoding": {
    "x": {"field": "lat", "type": "quantitative",
     "scale": {"domain": [-90, 90], "nice": false, "zero": false},
     "axis": {"orient": "top", "values": [50,60,70,80,90], "labels": false, "tickSize": 7, "title": null}}
   }
  }
 ],
 "resolve": {"scale": {"x": "independent", "y": "independent"}}
}
